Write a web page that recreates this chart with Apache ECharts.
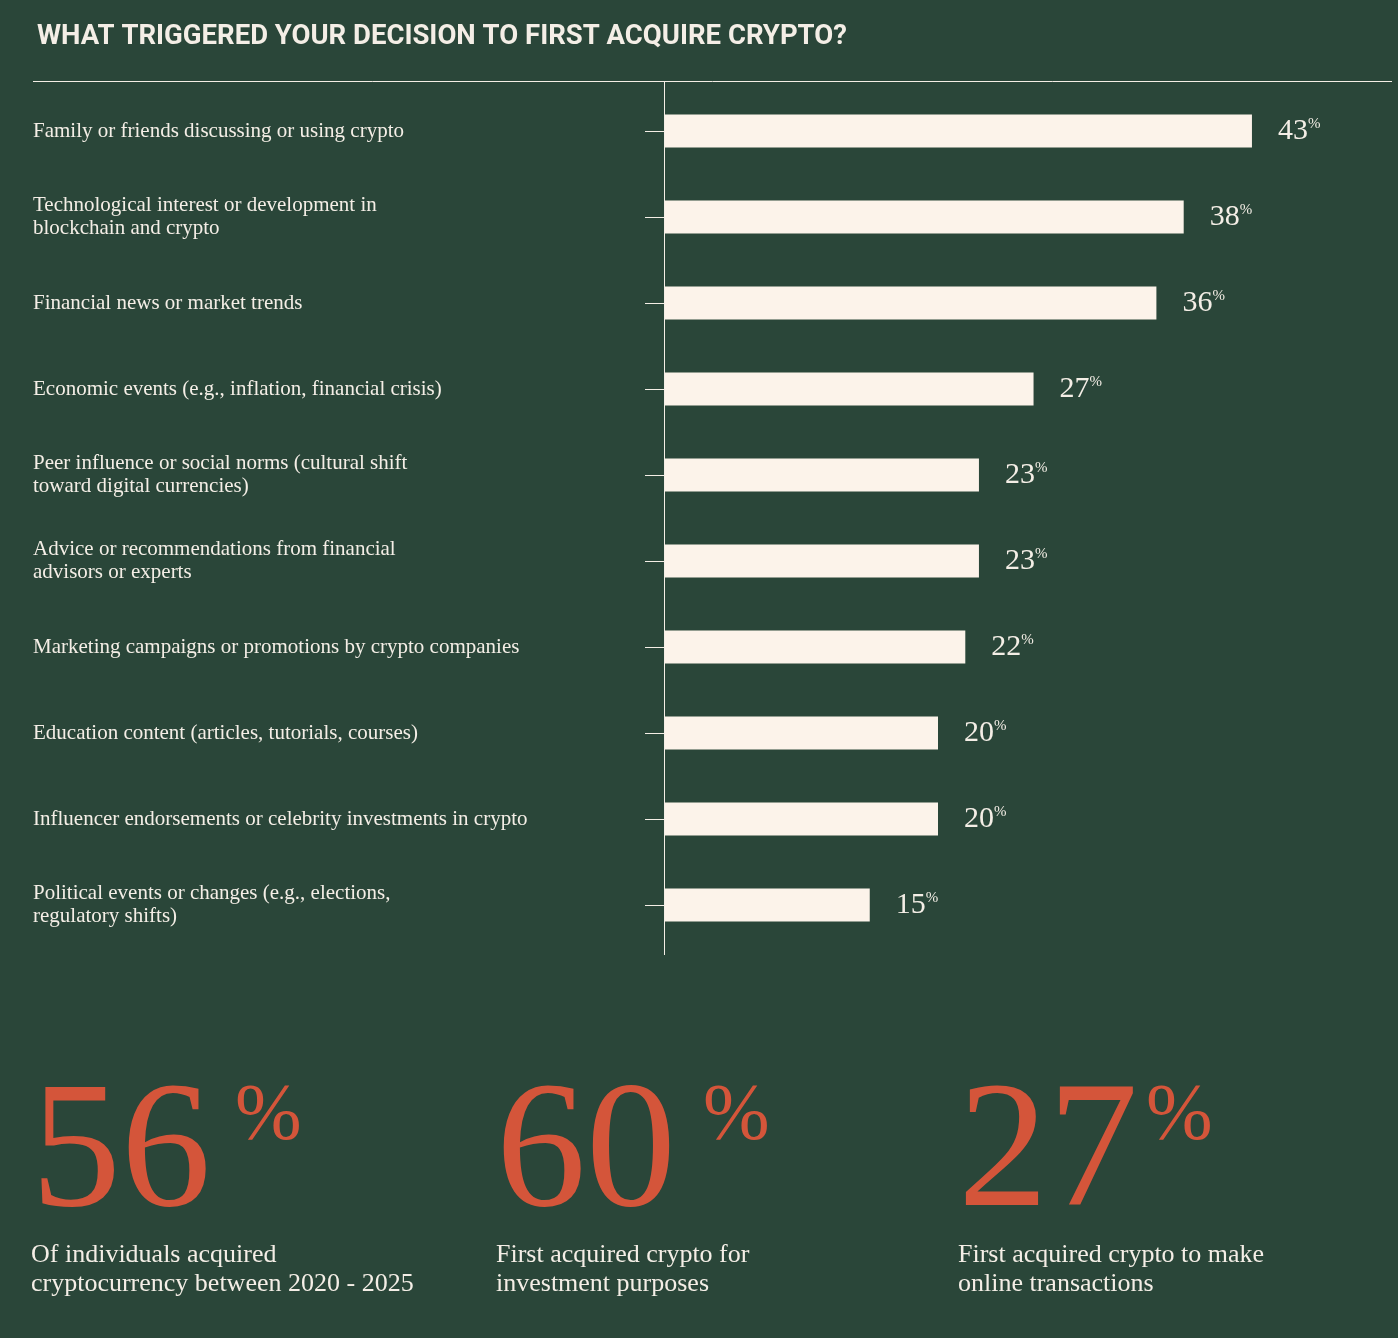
<!DOCTYPE html>
<html>
<head>
<meta charset="utf-8">
<script src="https://cdn.jsdelivr.net/npm/echarts@6/dist/echarts.min.js"></script>
<style>
  html, body { margin: 0; padding: 0; background: #2a4639; }
  #main { width: 1398px; height: 1338px; }
</style>
</head>
<body>
<div id="main"></div>
<script>
// chart data
const categories = [
    'Family or friends discussing or using crypto',
    'Technological interest or development in\nblockchain and crypto',
    'Financial news or market trends',
    'Economic events (e.g., inflation, financial crisis)',
    'Peer influence or social norms (cultural shift\ntoward digital currencies)',
    'Advice or recommendations from financial\nadvisors or experts',
    'Marketing campaigns or promotions by crypto companies',
    'Education content (articles, tutorials, courses)',
    'Influencer endorsements or celebrity investments in crypto',
    'Political events or changes (e.g., elections,\nregulatory shifts)'
];
const values = [43, 38, 36, 27, 23, 23, 22, 20, 20, 15];

// headline stats under the chart
const statValues = ['56', '60', '27'];
const statTexts = [
    'Of individuals acquired\ncryptocurrency between 2020 - 2025',
    'First acquired crypto for\ninvestment purposes',
    'First acquired crypto to make\nonline transactions'
];

const cream = '#fcf3ea';
const textColor = '#f4eee6';
const red = '#d4553a';
const serif = '"Liberation Serif", "DejaVu Serif", serif';

let myChart = echarts.init(document.getElementById('main'));

let statX = [31, 496, 958];
let pctX = [235, 703, 1146];
let statGraphics = [];
statValues.forEach(function (v, i) {
    statGraphics.push({
        type: 'text', left: statX[i], top: 1068,
        style: { text: v, fill: red, font: '400 180px ' + serif }
    });
    statGraphics.push({
        type: 'text', left: pctX[i], top: 1078,
        style: { text: '%', fill: red, font: '400 80px ' + serif }
    });
    statGraphics.push({
        type: 'text', left: statX[i], top: 1241,
        style: { text: statTexts[i], fill: textColor, font: '400 26px ' + serif, lineHeight: 29 }
    });
});

let options = {
    backgroundColor: '#2a4639',
    title: {
        text: 'WHAT TRIGGERED YOUR DECISION TO FIRST ACQUIRE CRYPTO?',
        left: 32,
        top: 18,
        textStyle: {
            color: textColor,
            fontFamily: 'Roboto, sans-serif',
            fontWeight: 'bold',
            fontSize: 27.5
        }
    },
    grid: {
        left: 665,
        top: 88,
        height: 860,
        width: 682.5
    },
    xAxis: {
        type: 'value',
        min: 0,
        max: 50,
        show: false
    },
    yAxis: {
        type: 'category',
        data: categories,
        inverse: true,
        axisLine: { show: false },
        axisTick: {
            show: true,
            alignWithLabel: true,
            length: 20,
            lineStyle: { color: textColor, width: 1 }
        },
        axisLabel: {
            align: 'left',
            margin: 632,
            color: textColor,
            fontFamily: serif,
            fontSize: 21,
            lineHeight: 23,
            padding: [6, 0, 0, 0]
        }
    },
    graphic: [
        {
            type: 'line',
            shape: { x1: 33, y1: 81.5, x2: 1392, y2: 81.5 },
            style: { stroke: textColor, lineWidth: 1 }
        },
        {
            type: 'line',
            shape: { x1: 664.5, y1: 81, x2: 664.5, y2: 955 },
            style: { stroke: textColor, lineWidth: 1 }
        }
    ].concat(statGraphics),
    series: [
        {
            type: 'bar',
            data: values,
            barWidth: 33,
            itemStyle: { color: cream },
            label: {
                show: true,
                position: 'right',
                distance: 26,
                formatter: '{n|{c}}{p|%}',
                rich: {
                    n: { color: textColor, fontFamily: serif, fontSize: 30 },
                    p: { color: textColor, fontFamily: serif, fontSize: 15, padding: [0, 0, 14, 0] }
                }
            }
        }
    ]
};
myChart.setOption(options);
</script>
</body>
</html>
